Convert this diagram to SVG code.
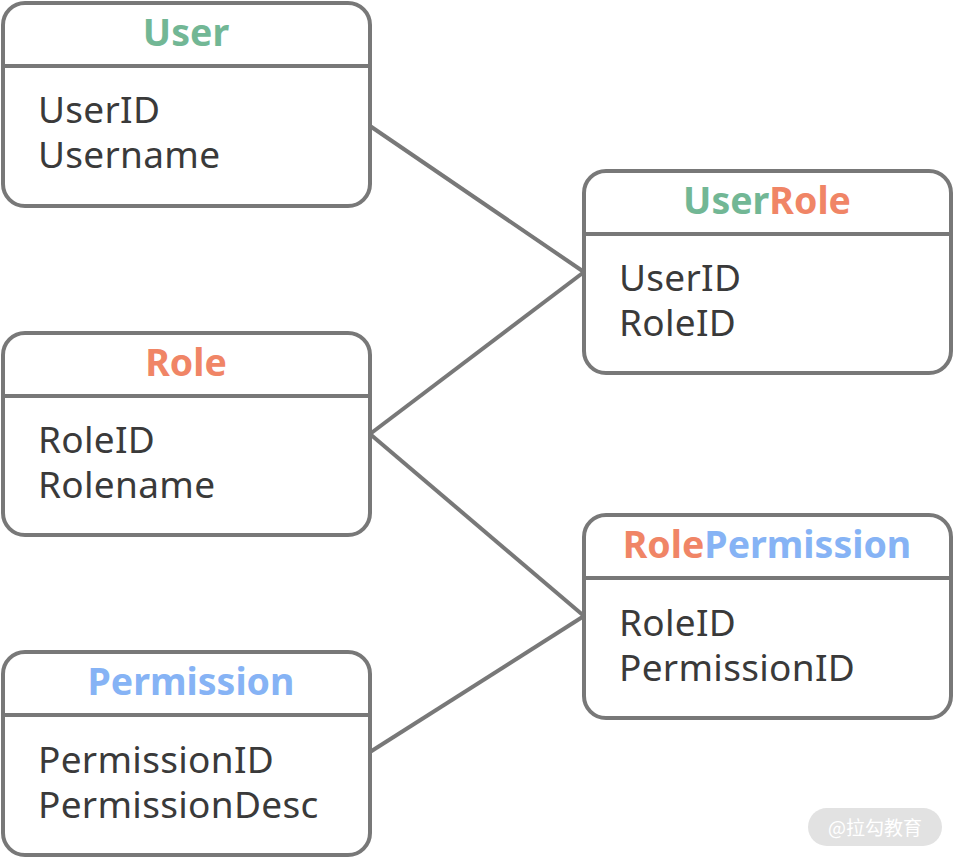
<svg xmlns="http://www.w3.org/2000/svg" width="954" height="858" viewBox="0 0 954 858">
<style>
.box{fill:#fff;stroke:#787878;stroke-width:4}
.div{stroke:#787878;stroke-width:4}
.conn{stroke:#787878;stroke-width:4;fill:none}
.t{font-family:"Noto Sans","Open Sans",sans-serif;font-weight:bold;font-size:37.5px;text-anchor:middle}
.f{font-family:"Noto Sans","Open Sans",sans-serif;font-size:37px;fill:#3a3a3a;letter-spacing:0.3px}
.g{fill:#72B795}.o{fill:#F08566}.b{fill:#86B3F5}
</style>
<rect width="954" height="858" fill="#fff"/>
<g id="connectors">
<line class="conn" x1="370" y1="126" x2="584" y2="272"/>
<line class="conn" x1="370" y1="434" x2="584" y2="272"/>
<line class="conn" x1="370" y1="434" x2="584" y2="616"/>
<line class="conn" x1="370" y1="752" x2="584" y2="616"/>
</g>
<g id="User">
<rect class="box" x="3" y="3" width="367" height="203" rx="22"/>
<line class="div" x1="3" y1="66" x2="370" y2="66"/>
<text class="t g" x="186" y="46">User</text>
<text class="f" x="38" y="123">UserID<tspan x="38" dy="45">Username</tspan></text>
</g>
<g id="UserRole">
<rect class="box" x="584" y="171" width="367" height="202" rx="22"/>
<line class="div" x1="584" y1="234" x2="951" y2="234"/>
<text class="t" x="767" y="214"><tspan class="g">User</tspan><tspan class="o">Role</tspan></text>
<text class="f" x="619" y="291">UserID<tspan x="619" dy="45">RoleID</tspan></text>
</g>
<g id="Role">
<rect class="box" x="3" y="333" width="367" height="202" rx="22"/>
<line class="div" x1="3" y1="396" x2="370" y2="396"/>
<text class="t o" x="186" y="376">Role</text>
<text class="f" x="38" y="453">RoleID<tspan x="38" dy="45">Rolename</tspan></text>
</g>
<g id="RolePermission">
<rect class="box" x="584" y="515" width="367" height="203" rx="22"/>
<line class="div" x1="584" y1="578" x2="951" y2="578"/>
<text class="t" x="767" y="558"><tspan class="o">Role</tspan><tspan class="b">Permission</tspan></text>
<text class="f" x="619" y="636">RoleID<tspan x="619" dy="45">PermissionID</tspan></text>
</g>
<g id="Permission">
<rect class="box" x="3" y="652" width="367" height="203" rx="22"/>
<line class="div" x1="3" y1="715" x2="370" y2="715"/>
<text class="t b" x="191" y="695">Permission</text>
<text class="f" x="38" y="773">PermissionID<tspan x="38" dy="45">PermissionDesc</tspan></text>
</g>
<g id="watermark">
<rect x="808" y="808" width="134" height="38" rx="19" fill="#e2e2e2"/>
<text x="875" y="835" font-family="Noto Sans CJK SC,sans-serif" font-size="19" fill="#fff" text-anchor="middle">@拉勾教育</text>
</g>
</svg>
